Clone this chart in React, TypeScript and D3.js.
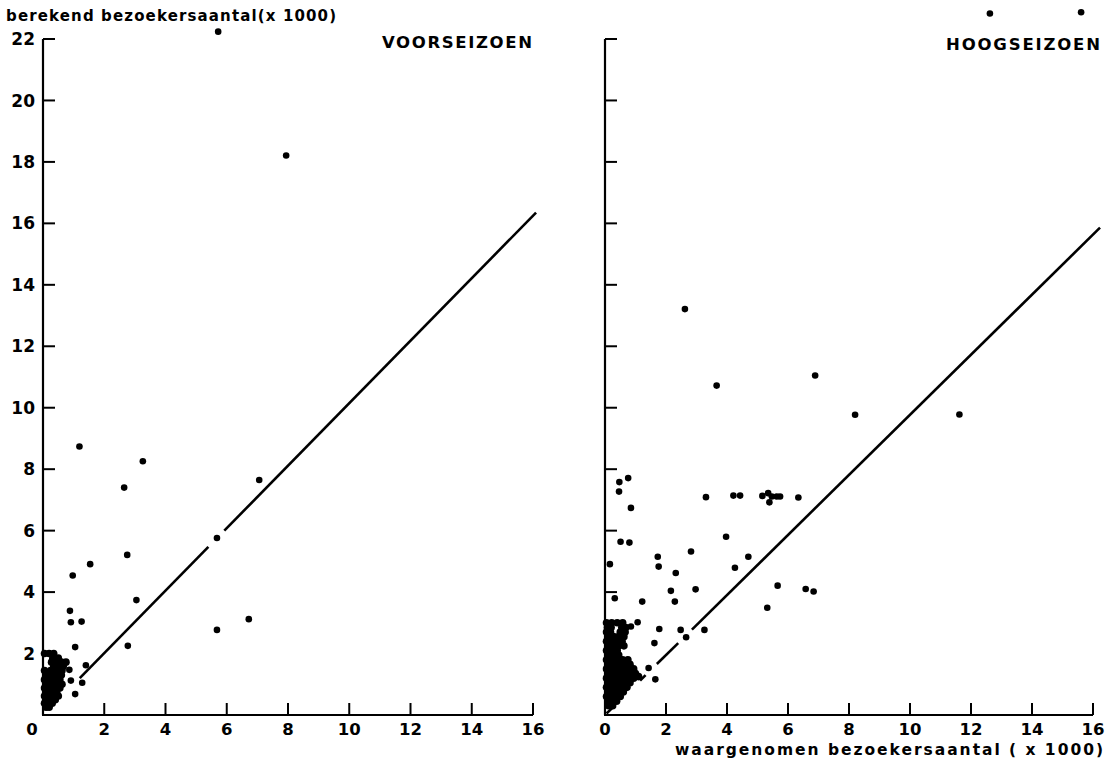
import React from "react";
import * as d3 from "d3";

// ---------- data ----------
const xTicks = [0, 2, 4, 6, 8, 10, 12, 14, 16];
const yTicks = [0, 2, 4, 6, 8, 10, 12, 14, 16, 18, 20, 22];
const yTickLabels = ["0", "2", "4", "6", "8", "10", "12", "14", "16", "18", "20", "22"];
const xTickLabels = ["0", "2", "4", "6", "8", "10", "12", "14", "16"];

const yTitle = "berekend bezoekersaantal(x 1000)";
const xTitle = "waargenomen bezoekersaantal ( x 1000)";
const leftTitle = "VOORSEIZOEN";
const rightTitle = "HOOGSEIZOEN";

// Voorseizoen: scattered points [observed, computed]
const preseasonPoints: [number, number][] = [
  [5.72, 22.24], [7.94, 18.21], [1.19, 8.74], [3.26, 8.26], [2.65, 7.4],
  [7.06, 7.65], [5.68, 5.76], [2.75, 5.21], [1.54, 4.91], [0.97, 4.54],
  [3.05, 3.74], [0.88, 3.39], [0.91, 3.02], [1.26, 3.04], [5.68, 2.77],
  [6.72, 3.12], [1.05, 2.21], [2.77, 2.25], [1.4, 1.62], [1.28, 1.05],
  [0.91, 1.12], [1.05, 0.68], [0.86, 1.47], [0.66, 1.63],
];
// Voorseizoen: dense cluster near the origin
const preseasonCluster: [number, number][] = [
  [0.05, 2.0], [0.2, 2.0], [0.35, 2.0],
  [0.32, 1.85], [0.5, 1.85],
  [0.28, 1.72], [0.45, 1.72], [0.6, 1.72], [0.75, 1.72],
  [0.35, 1.58], [0.55, 1.58], [0.66, 1.58],
  [0.05, 1.45], [0.25, 1.45], [0.45, 1.45], [0.62, 1.45],
  [0.1, 1.3], [0.28, 1.3], [0.48, 1.3], [0.6, 1.3],
  [0.05, 1.15], [0.2, 1.15], [0.38, 1.15], [0.55, 1.15],
  [0.1, 1.0], [0.28, 1.0], [0.46, 1.0], [0.62, 1.0],
  [0.05, 0.88], [0.2, 0.88], [0.38, 0.88], [0.55, 0.88],
  [0.1, 0.75], [0.28, 0.75], [0.45, 0.75],
  [0.05, 0.62], [0.2, 0.62], [0.38, 0.62], [0.5, 0.62],
  [0.1, 0.5], [0.28, 0.5], [0.4, 0.5],
  [0.05, 0.38], [0.2, 0.38], [0.3, 0.38],
  [0.1, 0.25], [0.2, 0.25],
];

// Hoogseizoen: scattered points
const peakPoints: [number, number][] = [
  [12.62, 22.83], [15.61, 22.87],
  [2.62, 13.21], [3.66, 10.72], [6.89, 11.05], [8.2, 9.77], [11.62, 9.78],
  [0.47, 7.58], [0.76, 7.71], [0.46, 7.27], [0.85, 6.74],
  [3.31, 7.09], [4.21, 7.14], [4.43, 7.14], [5.16, 7.13], [5.35, 7.22],
  [5.47, 7.11], [5.63, 7.11], [5.74, 7.11], [5.39, 6.92], [6.34, 7.08],
  [3.97, 5.8], [0.51, 5.64], [0.8, 5.61], [0.16, 4.91], [1.73, 5.15],
  [1.76, 4.83], [2.82, 5.32], [4.7, 5.15], [4.26, 4.79], [2.32, 4.62],
  [2.16, 4.04], [2.97, 4.09], [5.66, 4.21], [6.58, 4.1], [6.84, 4.02],
  [0.32, 3.8], [1.22, 3.69], [2.29, 3.69], [5.32, 3.49],
  [0.85, 2.88], [1.07, 3.02], [1.78, 2.8], [2.48, 2.77], [3.26, 2.77],
  [2.66, 2.53], [1.43, 1.53], [1.65, 1.16], [1.62, 2.34],
];
// Hoogseizoen: dense cluster near the origin
const peakCluster: [number, number][] = [
  [0.05, 3.0], [0.22, 3.0], [0.4, 3.0], [0.58, 3.0],
  [0.08, 2.85], [0.2, 2.85], [0.55, 2.85], [0.68, 2.85],
  [0.05, 2.7], [0.18, 2.7], [0.5, 2.7], [0.66, 2.7],
  [0.1, 2.55], [0.28, 2.55], [0.45, 2.55], [0.62, 2.55],
  [0.05, 2.4], [0.22, 2.4], [0.4, 2.4], [0.56, 2.4],
  [0.1, 2.25], [0.28, 2.25], [0.45, 2.25], [0.62, 2.25],
  [0.05, 2.1], [0.22, 2.1], [0.4, 2.1],
  [0.1, 1.95], [0.28, 1.95], [0.45, 1.95],
  [0.05, 1.8], [0.22, 1.8], [0.4, 1.8], [0.58, 1.8], [0.75, 1.8],
  [0.1, 1.65], [0.28, 1.65], [0.46, 1.65], [0.64, 1.65], [0.82, 1.65],
  [0.05, 1.5], [0.22, 1.5], [0.4, 1.5], [0.58, 1.5], [0.76, 1.5], [0.94, 1.5],
  [0.1, 1.35], [0.28, 1.35], [0.46, 1.35], [0.64, 1.35], [0.82, 1.35], [1.0, 1.35],
  [0.05, 1.2], [0.22, 1.2], [0.4, 1.2], [0.58, 1.2], [0.76, 1.2], [0.94, 1.2], [1.1, 1.25],
  [0.1, 1.05], [0.28, 1.05], [0.46, 1.05], [0.64, 1.05], [0.82, 1.05],
  [0.05, 0.9], [0.22, 0.9], [0.4, 0.9], [0.58, 0.9], [0.72, 0.9],
  [0.1, 0.75], [0.28, 0.75], [0.46, 0.75], [0.6, 0.75],
  [0.05, 0.6], [0.22, 0.6], [0.4, 0.6], [0.5, 0.6],
  [0.1, 0.45], [0.28, 0.45], [0.38, 0.45],
  [0.12, 0.3], [0.25, 0.3],
];

// Fitted lines, drawn as broken segments (gaps where they pass points)
const preseasonFit: [number, number][][] = [
  [[1.2, 1.2], [5.4, 5.47]],
  [[5.92, 6.0], [16.1, 16.35]],
];
const peakFit: [number, number][][] = [
  [[0.05, 0.05], [0.3, 0.29]],
  [[1.15, 1.12], [1.33, 1.3]],
  [[1.7, 1.66], [2.4, 2.34]],
  [[2.85, 2.78], [16.23, 15.86]],
];

// ---------- layout ----------
const W = 1111;
const H = 760;
const Y_BOTTOM = 715;
const Y_TOP = 39;
const FONT = "'DejaVu Sans', sans-serif";

type PanelProps = {
  x0: number;
  x1: number;
  points: [number, number][];
  cluster: [number, number][];
  fit: [number, number][][];
  showYLabels: boolean;
  zeroDx: number;
};

function Panel({ x0, x1, points, cluster, fit, showYLabels, zeroDx }: PanelProps) {
  const x = d3.scaleLinear().domain([0, 16]).range([x0, x1]);
  const y = d3.scaleLinear().domain([0, 22]).range([Y_BOTTOM, Y_TOP]);
  const line = d3
    .line<[number, number]>()
    .x((d) => x(d[0]))
    .y((d) => y(d[1]));
  const tickLen = 12;
  return (
    <g>
      {/* axes */}
      <line x1={x(0)} x2={x(0)} y1={y(22)} y2={y(0)} stroke="#000" strokeWidth={2.2} />
      <line x1={x(0) - 1} x2={x(16)} y1={y(0)} y2={y(0)} stroke="#000" strokeWidth={2.2} />
      {yTicks
        .filter((t) => t > 0)
        .map((t) => (
          <line key={"yt" + t} x1={x(0)} x2={x(0) + tickLen} y1={y(t)} y2={y(t)} stroke="#000" strokeWidth={2} />
        ))}
      {xTicks
        .filter((t) => t > 0)
        .map((t) => (
          <line key={"xt" + t} x1={x(t)} x2={x(t)} y1={y(0)} y2={y(0) - tickLen} stroke="#000" strokeWidth={2} />
        ))}
      {/* tick labels */}
      {xTicks.map((t, i) => (
        <text
          key={"xl" + t}
          x={x(t) + (t === 0 ? zeroDx : 0)}
          y={y(0) + 20}
          textAnchor="middle"
          fontFamily={FONT}
          fontWeight="bold"
          fontSize={16.5}
        >
          {xTickLabels[i]}
        </text>
      ))}
      {showYLabels &&
        yTicks
          .filter((t) => t > 0)
          .map((t) => (
            <text
              key={"yl" + t}
              x={x(0) - 8}
              y={y(t)}
              dy="0.36em"
              textAnchor="end"
              fontFamily={FONT}
              fontWeight="bold"
              fontSize={17}
            >
              {yTickLabels[yTicks.indexOf(t)]}
            </text>
          ))}
      {/* fitted line */}
      {fit.map((seg, i) => (
        <path key={"f" + i} d={line(seg) || ""} fill="none" stroke="#000" strokeWidth={2.6} />
      ))}
      {/* points */}
      {cluster.map((d, i) => (
        <circle key={"c" + i} cx={x(d[0])} cy={y(d[1])} r={3.8} fill="#000" />
      ))}
      {points.map((d, i) => (
        <circle key={"p" + i} cx={x(d[0])} cy={y(d[1])} r={3.3} fill="#000" />
      ))}
    </g>
  );
}

export default function App() {
  return (
    <svg
      width={W}
      height={H}
      viewBox={`0 0 ${W} ${H}`}
      style={{ position: "absolute", left: 0, top: 0, background: "#fff", display: "block" }}
    >
      <rect x={0} y={0} width={W} height={H} fill="#fff" />
      <Panel
        x0={43}
        x1={533}
        points={preseasonPoints}
        cluster={preseasonCluster}
        fit={preseasonFit}
        showYLabels={true}
        zeroDx={-11}
      />
      <Panel
        x0={605}
        x1={1093}
        points={peakPoints}
        cluster={peakCluster}
        fit={peakFit}
        showYLabels={false}
        zeroDx={0}
      />
      <text x={6} y={21} fontFamily={FONT} fontWeight="bold" fontSize={15} textLength={330} lengthAdjust="spacing">
        {yTitle}
      </text>
      <text x={382} y={48} fontFamily={FONT} fontWeight="bold" fontSize={16.5} textLength={150} lengthAdjust="spacing">
        {leftTitle}
      </text>
      <text x={946} y={50} fontFamily={FONT} fontWeight="bold" fontSize={16.5} textLength={154} lengthAdjust="spacing">
        {rightTitle}
      </text>
      <text x={675} y={755} fontFamily={FONT} fontWeight="bold" fontSize={15.5} textLength={428} lengthAdjust="spacing">
        {xTitle}
      </text>
    </svg>
  );
}
